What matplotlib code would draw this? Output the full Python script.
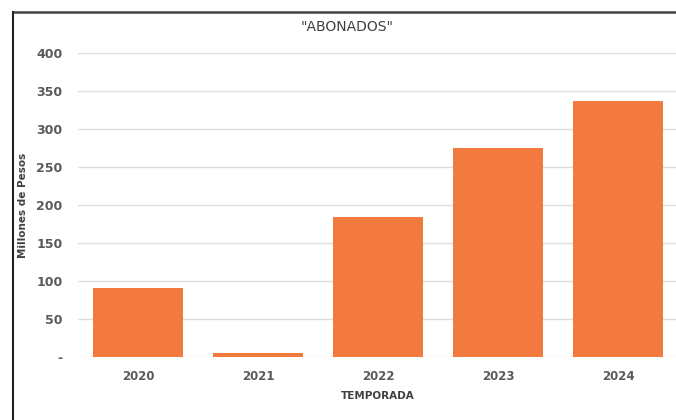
import matplotlib.pyplot as plt
from matplotlib.lines import Line2D

# data
temporadas = ["2020", "2021", "2022", "2023", "2024"]
abonados = [91, 5, 184, 275, 337]
y_ticks = [0, 50, 100, 150, 200, 250, 300, 350, 400]
y_labels = ["-", "50", "100", "150", "200", "250", "300", "350", "400"]

W, H = 676, 420
fig = plt.figure(figsize=(W / 100, H / 100), dpi=100)
fig.patch.set_facecolor("white")

# axes placed so categories line up with the reference
ax = fig.add_axes([78 / W, (H - 357) / H, 600 / W, 304 / H])
ax.bar(range(len(temporadas)), abonados, width=0.75, color="#F27A3E", zorder=3)
ax.set_xlim(-0.5, len(temporadas) - 0.5)
ax.set_ylim(0, 400)

ax.set_yticks(y_ticks)
ax.set_yticklabels(y_labels)
ax.set_xticks(range(len(temporadas)))
ax.set_xticklabels(temporadas)
ax.grid(axis="y", color="#DDDDDD", linewidth=1, zorder=0)
for s in ax.spines.values():
    s.set_visible(False)
ax.tick_params(length=0, colors="#595959")
ax.tick_params(axis="y", pad=11, labelsize=9)
ax.tick_params(axis="x", pad=9, labelsize=8.5)
for lbl in ax.get_xticklabels() + ax.get_yticklabels():
    lbl.set_fontweight("bold")
    lbl.set_family("DejaVu Sans Condensed")

fig.text(347 / W, 1 - 27 / H, '"ABONADOS"', ha="center", va="center",
         fontsize=10, color="#404040", family="DejaVu Sans")
fig.text(23 / W, 1 - 205 / H, "Millones de Pesos", ha="center", va="center",
         rotation=90, fontsize=7.5, fontweight="bold", color="#404040",
         family="DejaVu Sans Condensed")
fig.text(378 / W, 1 - 396 / H, "TEMPORADA", ha="center", va="center",
         fontsize=7.5, fontweight="bold", color="#404040",
         family="DejaVu Sans Condensed")

# outer frame of the original (only top and left edges visible)
fig.add_artist(Line2D([13 / W, 1], [1 - 12 / H, 1 - 12 / H], color="#444444",
                      linewidth=1.8, transform=fig.transFigure))
fig.add_artist(Line2D([13 / W, 13 / W], [0, 1 - 12 / H], color="#222222",
                      linewidth=1.5, transform=fig.transFigure))

fig.savefig("out.png", dpi=100)
